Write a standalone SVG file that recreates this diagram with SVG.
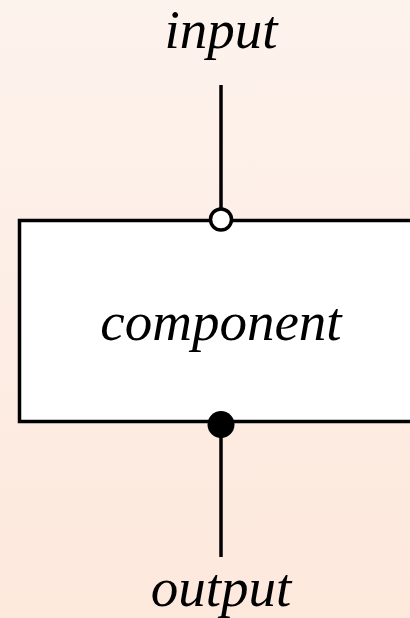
<svg xmlns="http://www.w3.org/2000/svg" width="410" height="618" viewBox="0 0 410 618">
<defs>
<linearGradient id="bg" x1="0" y1="0" x2="0" y2="1">
<stop offset="0" stop-color="#fdf3ed"/>
<stop offset="1" stop-color="#fde8dc"/>
</linearGradient>
<style>
.lbl{font-family:"Liberation Serif","Times New Roman",serif;font-style:italic;font-size:55px;fill:#000;text-anchor:middle}
.ln{stroke:#000;stroke-width:3.5;fill:none}
</style>
</defs>
<rect width="410" height="618" fill="url(#bg)"/>
<g id="connectors">
<line class="ln" x1="221" y1="85" x2="221" y2="208"/>
<line class="ln" x1="221" y1="430" x2="221" y2="557"/>
</g>
<g id="component">
<rect x="19.5" y="220.5" width="400" height="201" fill="#fff" stroke="#000" stroke-width="3.5"/>
<text class="lbl" x="221" y="340">component</text>
</g>
<g id="input">
<circle cx="221" cy="219.5" r="10.5" fill="#fff" stroke="#000" stroke-width="3.5"/>
<text class="lbl" x="221" y="48">input</text>
</g>
<g id="output">
<circle cx="221" cy="424.5" r="13.5" fill="#000"/>
<text class="lbl" x="221" y="606">output</text>
</g>
</svg>
